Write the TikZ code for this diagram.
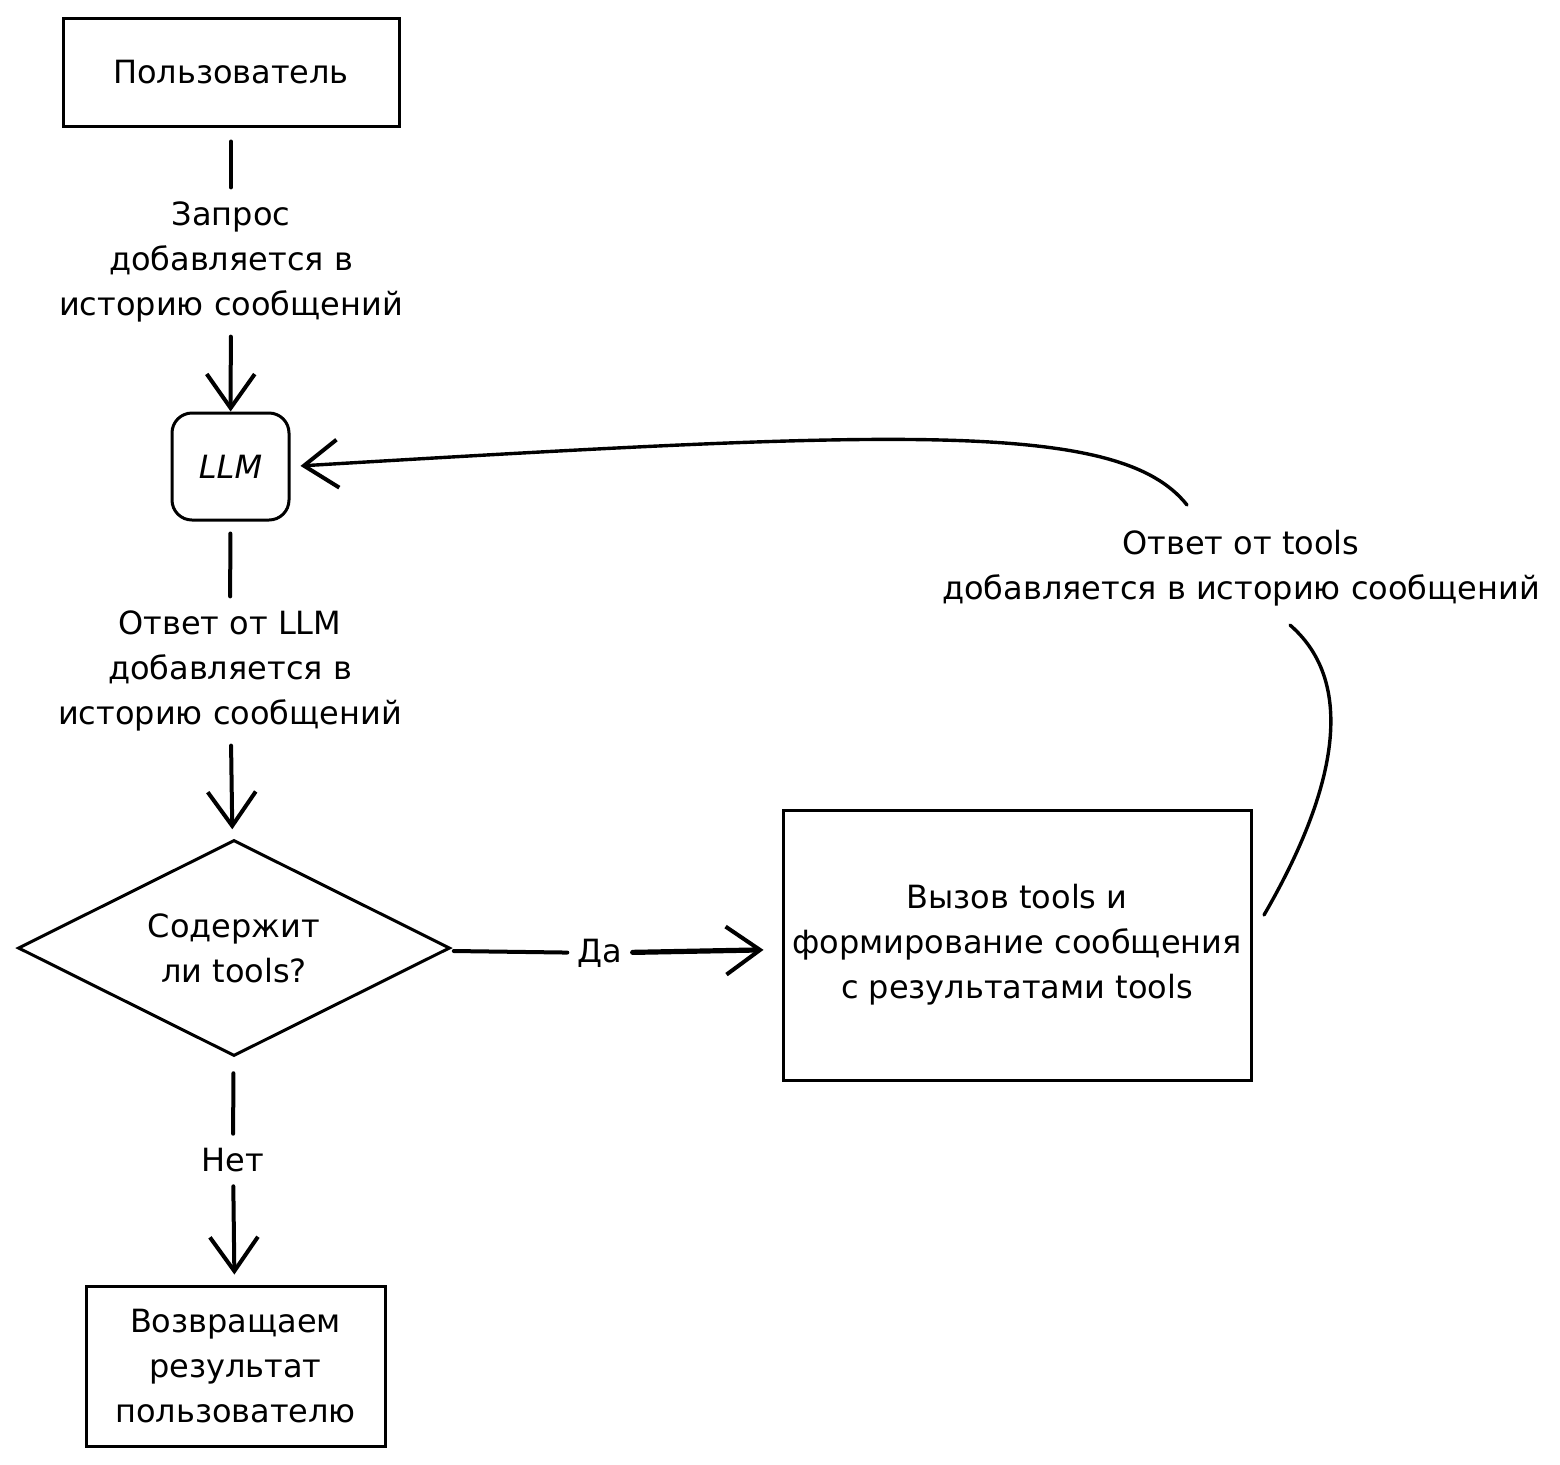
\documentclass[tikz,border=0pt]{standalone}
\usepackage{fontspec}
\setmainfont{DejaVu Sans}
\usetikzlibrary{arrows.meta,shapes.geometric}
\begin{document}
\begin{tikzpicture}[x=0.5pt,y=-0.5pt,
  base/.style={font=\fontsize{16}{22.5}\selectfont, align=center},
  box/.style={base, draw, line width=1.5pt, inner sep=0pt},
  lbl/.style={base, inner sep=7pt},
  ln/.style={line width=2pt, line cap=round},
  arr/.style={ln, -{Straight Barb[length=17pt,width=24pt,line width=2pt]}}]
\useasboundingbox[fill=white] (0,0) rectangle (1560,1464);

\node[box, minimum width=168pt, minimum height=54pt] (user) at (231,72) {Пользователь};
\node[lbl] (q) at (231,262) {Запрос\\добавляется в\\историю сообщений};
\node[box, rounded corners=10pt, minimum width=58.5pt, minimum height=53.5pt] (llm) at (230.5,466.5) {\itshape LLM};
\node[lbl] (a) at (230,671) {Ответ от LLM\\добавляется в\\историю сообщений};
\node[base, diamond, shape aspect=2, draw, line width=1.5pt, inner sep=0pt, minimum width=216pt, minimum height=108pt] (d) at (234,948) {Содержит\\ли tools?};
\node[base, inner sep=5pt] (yes) at (600,953) {Да};
\node[box, minimum width=234pt, minimum height=135pt] (tools) at (1017,945) {Вызов tools и\\формирование сообщения\\с результатами tools};
\node[lbl] (tl) at (1241,568) {Ответ от tools\\добавляется в историю сообщений};
\node[base, inner sep=7pt] (no) at (233,1160) {Нет};
\node[box, minimum width=149.5pt, minimum height=80pt] (res) at (235.5,1366) {Возвращаем\\результат\\пользователю};

\coordinate (r1) at (1264,915);
\coordinate (r2) at (1290,625);
\coordinate (r3) at (1187,505);

\draw[ln, shorten <=7pt] (user) -- (q);
\draw[arr] (q) -- (llm);
\draw[ln, shorten <=6pt] (llm) -- (a);
\draw[arr, shorten >=5pt] (a) -- (d);
\draw[ln, shorten <=4pt] (d) -- (yes);
\draw[arr, line width=2.6pt, shorten >=9pt] (yes) -- (tools);
\draw[ln, shorten <=8pt] (d) -- (no);
\draw[arr, shorten >=5pt] (no) -- (res);
\draw[ln, line width=1.7pt] (r1) .. controls (1325,810) and (1365,690) .. (r2);
\draw[arr, line width=1.7pt, shorten >=5pt] (r3) .. controls (1120,420) and (900,430) .. (llm.east);
\end{tikzpicture}
\end{document}
